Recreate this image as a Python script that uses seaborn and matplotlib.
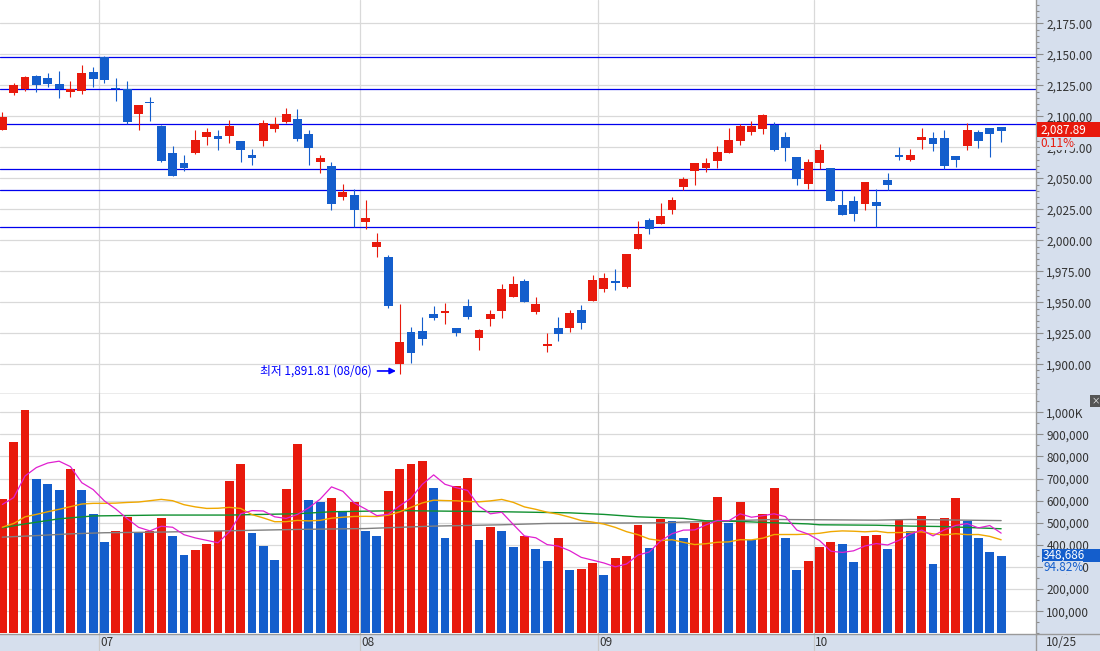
import numpy as np
import pandas as pd
import matplotlib
matplotlib.use("Agg")
import matplotlib.pyplot as plt
import seaborn as sns
from matplotlib.ticker import MultipleLocator, FuncFormatter
from matplotlib.patches import Rectangle
from matplotlib.lines import Line2D

# KOSPI daily, 2019-06-18 .. 2019-10-25 (trading days)
holidays = ["2019-08-15", "2019-09-12", "2019-09-13", "2019-10-03", "2019-10-09"]

opens = [2089.2, 2119.0, 2122.0, 2132.5, 2130.9, 2126.0, 2119.8, 2120.6, 2135.7, 2148.0,
         2122.8, 2121.8, 2102.1, 2111.5, 2092.2, 2070.4, 2062.3, 2070.6, 2083.5, 2084.1,
         2084.4, 2080.1, 2068.8, 2080.4, 2089.8, 2095.6, 2097.8, 2085.7, 2063.4, 2059.9,
         2035.2, 2036.5, 2015.0, 1994.8, 1986.5, 1900.5, 1926.1, 1926.9, 1940.6, 1941.6,
         1929.3, 1947.0, 1921.5, 1936.8, 1943.2, 1954.5, 1967.2, 1942.4, 1915.0, 1929.3,
         1929.5, 1943.8, 1951.3, 1961.0, 1967.4, 1962.6, 1993.0, 2016.4, 2013.1, 2024.4,
         2043.0, 2055.9, 2058.3, 2064.0, 2070.4, 2080.1, 2087.3, 2089.8, 2093.0, 2083.3,
         2067.2, 2045.7, 2062.6, 2058.3, 2028.5, 2031.7, 2029.5, 2030.9, 2048.6, 2068.8,
         2065.0, 2081.1, 2082.5, 2082.5, 2068.0, 2076.3, 2087.3, 2090.6, 2091.4]
highs = [2103.5, 2126.6, 2132.5, 2133.5, 2134.9, 2136.5, 2128.5, 2141.4, 2139.8, 2148.5,
         2130.9, 2128.5, 2109.1, 2115.6, 2092.7, 2076.0, 2068.8, 2088.9, 2090.6, 2088.9,
         2097.0, 2080.1, 2073.6, 2097.0, 2099.4, 2106.7, 2105.9, 2088.9, 2068.8, 2063.1,
         2045.4, 2041.1, 2032.5, 2005.9, 1988.1, 1948.6, 1930.1, 1938.1, 1947.0, 1949.4,
         1929.3, 1952.7, 1928.5, 1943.8, 1964.8, 1971.2, 1968.8, 1954.3, 1925.2, 1938.1,
         1943.8, 1947.8, 1972.0, 1973.6, 1976.8, 1988.9, 2015.6, 2018.0, 2030.1, 2035.0,
         2051.0, 2062.3, 2066.4, 2076.0, 2090.6, 2093.8, 2096.2, 2101.9, 2095.4, 2087.3,
         2067.2, 2065.6, 2077.7, 2058.3, 2040.6, 2035.7, 2047.0, 2041.4, 2054.3, 2075.2,
         2073.6, 2090.6, 2087.3, 2088.9, 2068.0, 2094.6, 2088.9, 2090.6, 2091.4]
lows = [2089.0, 2117.4, 2120.6, 2119.6, 2123.6, 2115.0, 2115.8, 2118.2, 2123.9, 2127.1,
        2112.3, 2093.8, 2089.2, 2096.5, 2063.4, 2052.1, 2056.1, 2069.8, 2077.1, 2073.1,
        2078.7, 2063.4, 2061.0, 2076.3, 2087.6, 2094.6, 2080.3, 2061.0, 2054.5, 2024.7,
        2032.5, 2010.5, 2009.1, 1986.8, 1945.6, 1891.81, 1901.3, 1915.8, 1936.0, 1932.7,
        1923.1, 1936.8, 1911.8, 1931.1, 1937.6, 1954.5, 1950.2, 1940.8, 1909.9, 1919.0,
        1926.3, 1928.7, 1951.3, 1958.6, 1960.2, 1961.8, 1993.0, 2005.3, 2013.1, 2021.2,
        2040.6, 2044.6, 2055.1, 2058.3, 2070.4, 2076.9, 2084.9, 2085.7, 2072.0, 2064.0,
        2044.6, 2041.4, 2057.5, 2031.9, 2020.6, 2015.8, 2024.7, 2010.5, 2040.6, 2064.8,
        2064.0, 2073.9, 2072.3, 2057.5, 2059.4, 2072.8, 2074.7, 2067.4, 2079.5]
closes = [2099.4, 2125.2, 2131.7, 2125.5, 2126.3, 2121.8, 2121.8, 2134.9, 2130.3, 2129.5,
          2121.8, 2095.6, 2109.1, 2110.5, 2064.2, 2052.1, 2058.5, 2080.9, 2087.3, 2081.9,
          2092.2, 2073.1, 2066.6, 2094.6, 2093.5, 2101.9, 2081.9, 2074.7, 2066.4, 2029.5,
          2039.0, 2024.7, 2018.0, 1998.6, 1947.3, 1918.0, 1909.4, 1920.6, 1937.6, 1942.7,
          1925.5, 1938.4, 1927.7, 1940.6, 1960.7, 1964.8, 1950.2, 1948.6, 1916.4, 1924.7,
          1941.4, 1933.6, 1968.0, 1969.6, 1965.8, 1988.9, 2005.1, 2009.4, 2019.6, 2032.5,
          2049.4, 2062.3, 2062.3, 2071.2, 2080.9, 2092.2, 2092.2, 2101.0, 2072.8, 2074.4,
          2049.4, 2063.1, 2072.8, 2031.9, 2020.6, 2021.4, 2047.0, 2027.9, 2044.8, 2067.4,
          2068.8, 2083.3, 2077.9, 2060.2, 2065.0, 2088.9, 2080.3, 2085.6, 2087.89]
volume_k = [606, 865, 1011, 697, 674, 647, 742, 647, 542, 415,
            465, 524, 452, 461, 520, 442, 356, 379, 406, 465,
            688, 765, 452, 397, 333, 652, 856, 602, 592, 611,
            552, 592, 465, 442, 642, 742, 765, 779, 656, 429,
            665, 702, 424, 483, 465, 392, 438, 383, 329, 429,
            288, 289, 320, 265, 342, 352, 492, 388, 515, 506,
            433, 497, 502, 615, 497, 592, 420, 538, 656, 433,
            288, 329, 392, 415, 406, 324, 438, 447, 383, 512,
            465, 529, 315, 520, 611, 506, 433, 367.73, 348.686]

# user drawn horizontal levels
level_lines = [2147.6, 2121.8, 2093.5, 2057.3, 2040.4, 2010.6]

# volume moving averages (values before the window)
ma5_head = [583, 614, 712, 750]
ma20_head = [480, 497, 527, 538, 550, 561, 573, 585, 588, 588,
             589, 592, 594, 600, 606, 600, 582, 572, 565]
ma60_k = [0, 2, 5, 8, 14, 20, 26, 29, 35, 44, 50, 53, 56, 60, 62, 65, 68, 71, 72, 77, 80, 83, 86, 88]
ma60_v = [477, 495, 518, 531, 535, 535, 541, 550, 555, 550, 545, 538, 527, 520, 509, 506, 500, 495,
          491, 489, 485, 483, 477, 473]
ma120_k = [0, 3, 6, 9, 14, 20, 26, 32, 38, 44, 48, 58, 62, 68, 77, 80, 88]
ma120_v = [435, 442, 450, 455, 458, 464, 470, 474, 485, 491, 497, 500, 506, 515, 512, 515, 510]

RED = "#e8190c"
BLUE = "#145ecc"
LEVEL = "#0000ee"
GRID = "#d9d9d9"
PANEL = "#d6dfed"
AXC = "#9a9a9a"
TXT = "#333333"

dates = pd.bdate_range("2019-06-18", "2019-10-25")
dates = dates[~dates.isin(pd.to_datetime(holidays))]

opens = np.array(opens)
highs = np.array(highs)
lows = np.array(lows)
closes = np.array(closes)
volume = np.array(volume_k) * 1000
n = len(closes)
idx = np.arange(n)

vol_s = pd.Series(volume)
ma5 = vol_s.rolling(5).mean().values
ma5[:4] = np.array(ma5_head) * 1000
ma20 = vol_s.rolling(20).mean().values
ma20[:19] = np.array(ma20_head) * 1000

sns.set_style("white")
plt.rcParams["font.family"] = ["Noto Sans CJK KR", "DejaVu Sans"]

W, H = 1100, 651
fig = plt.figure(figsize=(W / 100, H / 100), dpi=100, facecolor=PANEL)
axp = fig.add_axes([0, (H - 393.5) / H, 1036 / W, 393.5 / H], facecolor="white")
axv = fig.add_axes([0, (H - 634) / H, 1036 / W, 240 / H], facecolor="white")

# candles
up = closes >= opens
ccol = np.where(up, RED, BLUE)
axp.vlines(idx, lows, highs, colors=ccol, lw=0.8, zorder=3)
body_bot = np.minimum(opens, closes)
body_h = np.maximum(np.abs(closes - opens), 1.3)
axp.bar(idx, body_h, bottom=body_bot, width=0.78, color=ccol, linewidth=0, zorder=3)

for lv in level_lines:
    axp.axhline(lv, color=LEVEL, lw=0.9, zorder=2)

# volume bars, coloured by change vs previous day
vdir = np.where(np.r_[True, volume[1:] >= volume[:-1]], "up", "down")
vol_df = pd.DataFrame({"idx": idx, "vol": volume, "dir": vdir})
sns.barplot(data=vol_df, x="idx", y="vol", hue="dir", palette={"up": RED, "down": BLUE},
            dodge=False, native_scale=True, width=0.78, errorbar=None, legend=False,
            saturation=1, linewidth=0, ax=axv, zorder=3)
sns.lineplot(x=ma120_k, y=np.array(ma120_v) * 1000, color="#808080", lw=1.0, ax=axv, zorder=4)
sns.lineplot(x=ma60_k, y=np.array(ma60_v) * 1000, color="#109030", lw=1.0, ax=axv, zorder=4)
sns.lineplot(x=idx, y=ma20, color="#f0a800", lw=1.0, ax=axv, zorder=4)
sns.lineplot(x=idx, y=ma5, color="#e020d0", lw=0.9, ax=axv, zorder=5)

xlim = (-2.35 / 11.35, (1036 - 2.35) / 11.35)
for ax in (axp, axv):
    ax.set_xlim(*xlim)
    ax.set_xticks([])
    ax.set_xlabel("")
    ax.set_ylabel("")
    ax.yaxis.tick_right()
    ax.set_axisbelow(True)
    ax.yaxis.grid(True, color=GRID, lw=0.9)
    ax.xaxis.grid(False)
    for s in ("top", "left"):
        ax.spines[s].set_visible(False)
    for s in ("right", "bottom"):
        ax.spines[s].set_color(AXC)
        ax.spines[s].set_linewidth(1.0)
    ax.tick_params(axis="y", which="major", direction="out", length=5, width=0.8,
                   color="#8c8c8c", labelcolor=TXT, labelsize=8.5, pad=2.5)
    ax.tick_params(axis="y", which="minor", direction="out", length=2.5, width=0.8,
                   color="#8c8c8c")

axp.set_ylim(1876.45, 2193.8)
axp.set_yticks(np.arange(1900, 2176, 25))
axp.yaxis.set_minor_locator(MultipleLocator(5))
axp.yaxis.set_major_formatter(FuncFormatter(lambda v, p: f"{v:,.2f}"))

axv.set_ylim(-3200, 1082800)
axv.set_yticks(np.arange(100000, 1000001, 100000))
axv.yaxis.set_minor_locator(MultipleLocator(50000))
axv.yaxis.set_major_formatter(
    FuncFormatter(lambda v, p: f"{v / 1000:,.0f}K" if v >= 1e6 else f"{v:,.0f}"))

# month separators and labels
month_starts = [i for i in range(1, n) if dates[i].month != dates[i - 1].month]
for i in month_starts:
    axp.axvline(i - 0.5, color=GRID, lw=0.9, zorder=1)
    axv.axvline(i - 0.5, ymin=-17 / 240, ymax=1, color="#c8c8c8", lw=0.9, zorder=1, clip_on=False)
    axv.text(i - 0.4, -9 / 240, f"{dates[i]:%m}", transform=axv.get_xaxis_transform(),
             ha="left", va="center", fontsize=8.5, color=TXT)
fig.text(1046 / W, (H - 643) / H, f"{dates[-1]:%m/%d}", ha="left", va="center",
         fontsize=8.5, color=TXT)
fig.add_artist(Line2D([1036 / W, 1036 / W], [0, 17 / H], transform=fig.transFigure, color=AXC, lw=1))
fig.add_artist(Line2D([1036 / W, 1], [17 / H, 17 / H], transform=fig.transFigure, color=AXC, lw=1))

# lowest point annotation
k_low = int(np.argmin(lows))
y_arrow = lows[k_low] + 2.8
axp.annotate("", xy=(k_low - 0.32, y_arrow), xytext=(k_low - 1.95, y_arrow),
             arrowprops=dict(arrowstyle="-|>", color="#0000ff", lw=1.2, mutation_scale=9,
                             shrinkA=0, shrinkB=0), zorder=6)
axp.text(k_low - 2.45, y_arrow, f"최저 {lows[k_low]:,.2f} ({dates[k_low]:%m/%d})",
         ha="right", va="center", fontsize=8.5, color="#0000ff", zorder=6)


def fig_y(ax, v):
    return fig.transFigure.inverted().transform(ax.transData.transform((0, v)))[1]


# last price / last volume markers on the right axis
yc = fig_y(axp, closes[-1]) + 1.5 / H
fig.add_artist(Rectangle((1037 / W, yc - 7.5 / H), 63 / W, 15 / H, transform=fig.transFigure,
                         facecolor=RED, edgecolor="none", zorder=5))
fig.text(1040 / W, yc, f"{closes[-1]:,.2f}", color="white", ha="left", va="center",
         fontsize=8.5, zorder=6)
pchg = (closes[-1] / closes[-2] - 1) * 100
fig.text(1040 / W, yc - 13.5 / H, f"{pchg:.2f}%", color=RED, ha="left", va="center",
         fontsize=8.5, zorder=6,
         bbox=dict(facecolor=PANEL, edgecolor="none", pad=0.2))

yv = fig_y(axv, volume[-1]) + 1 / H
fig.add_artist(Rectangle((1042 / W, yv - 6.5 / H), 58 / W, 13 / H, transform=fig.transFigure,
                         facecolor=BLUE, edgecolor="none", zorder=5))
fig.text(1043 / W, yv, f"{volume[-1]:,.0f}", color="white", ha="left", va="center",
         fontsize=8.5, zorder=6)
vchg = volume[-1] / volume[-2] * 100
fig.text(1043 / W, yv - 12.5 / H, f"{vchg:.2f}%", color=BLUE, ha="left", va="center",
         fontsize=8.5, zorder=6,
         bbox=dict(facecolor=PANEL, edgecolor="none", pad=0.2))

fig.text(1095.5 / W, (H - 401) / H, "×", color="white", ha="center", va="center", fontsize=6,
         bbox=dict(facecolor="#555555", edgecolor="none", pad=0.8))

fig.savefig("out.png", dpi=100, facecolor=PANEL)
